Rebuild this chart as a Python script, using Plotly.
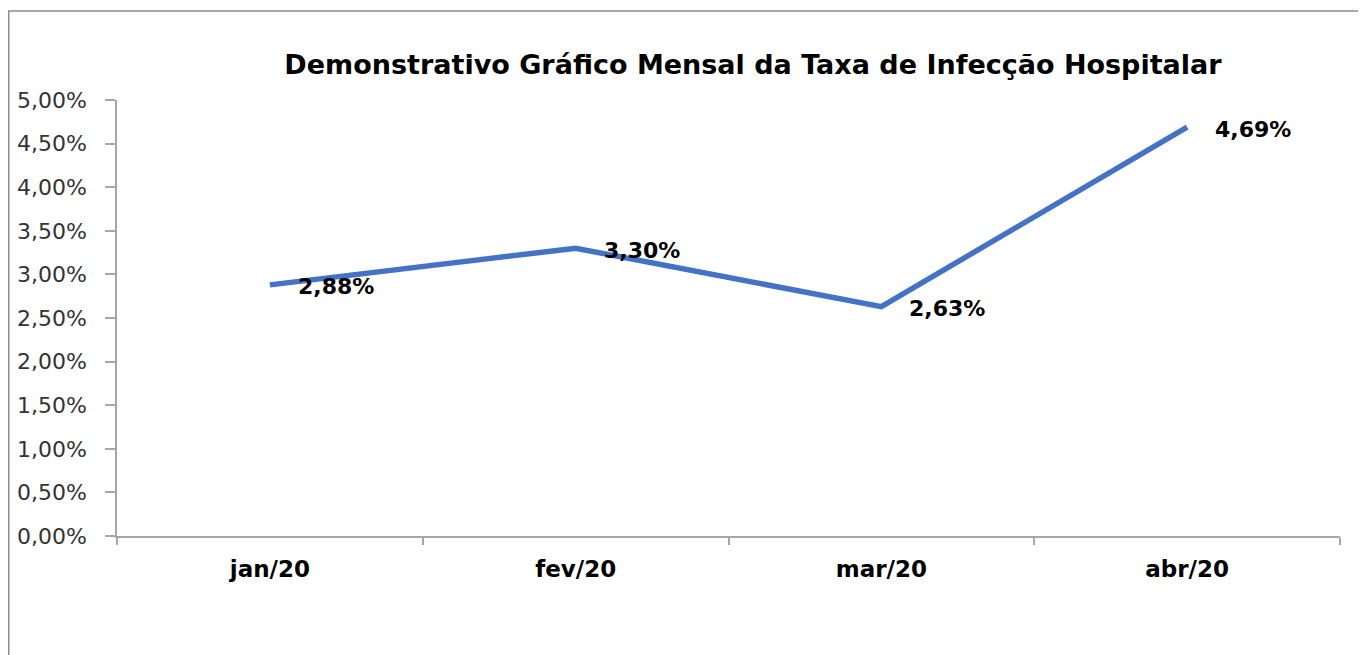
import plotly.graph_objects as go

months = ["jan/20", "fev/20", "mar/20", "abr/20"]
rates = [0.0288, 0.0330, 0.0263, 0.0469]
y_ticks = [0.0, 0.005, 0.01, 0.015, 0.02, 0.025, 0.03, 0.035, 0.04, 0.045, 0.05]
title_text = "Demonstrativo Gráfico Mensal da Taxa de Infecção Hospitalar"


def fmt(v):
    return f"{v * 100:.2f}%".replace(".", ",")


# page body has an 8px margin, so the figure is offset by 8px
OFF = 8
W, H = 1366 - OFF, 655 - OFF
L, R, T, B = 117 - OFF, 26, 100 - OFF, 119
pw, ph = W - L - R, H - T - B

fig = go.Figure()
fig.add_trace(go.Scatter(
    x=months, y=rates, mode="lines",
    line=dict(color="#4472C4", width=5.5),
    hoverinfo="skip", showlegend=False,
))

annotations = []
for m, v in zip(months, rates):
    annotations.append(dict(
        x=m, y=v, xref="x", yref="y", text="<b>" + fmt(v) + "</b>", showarrow=False,
        xanchor="left", yanchor="middle", xshift=26, yshift=-2,
        font=dict(family="DejaVu Sans", size=22, color="#000000"),
    ))

fig.update_layout(
    width=W, height=H,
    margin=dict(l=L, r=R, t=T, b=B, autoexpand=False),
    paper_bgcolor="white", plot_bgcolor="white",
    separators=",.",
    showlegend=False,
    title=dict(
        text="<b>" + title_text + "</b>",
        xref="container", yref="container",
        x=(753 - OFF) / W, y=1 - (65 - OFF) / H, xanchor="center", yanchor="middle",
        font=dict(family="DejaVu Sans", size=27, color="#000000"),
    ),
    xaxis=dict(
        type="category", range=[-0.5, 3.5],
        showline=True, linecolor="#A6A6A6", linewidth=1.5,
        ticks="outside", tickson="boundaries", ticklen=7,
        tickcolor="#A6A6A6", tickwidth=1.5,
        showgrid=False, zeroline=False,
        tickfont=dict(family="DejaVu Sans", size=23, color="#000000", weight="bold"),
        ticklabelstandoff=12,
    ),
    yaxis=dict(
        range=[0, 0.05], tickvals=y_ticks, tickformat=".2%",
        showline=True, linecolor="#A6A6A6", linewidth=1.5,
        ticks="outside", ticklen=10, tickcolor="#A6A6A6", tickwidth=1.5,
        showgrid=False, zeroline=False,
        tickfont=dict(family="DejaVu Sans", size=22, color="#333333"),
        ticklabelstandoff=14,
    ),
    annotations=annotations,
    shapes=[dict(
        type="rect", xref="paper", yref="paper",
        x0=(0.75 - L) / pw, x1=(W + 20 - L) / pw,
        y0=-(H + 20 - T - ph) / ph, y1=(T + ph - 3) / ph,
        line=dict(color="#8C8C8C", width=1.5), fillcolor="rgba(0,0,0,0)",
        layer="below",
    )],
)

fig.write_html("out.html")
